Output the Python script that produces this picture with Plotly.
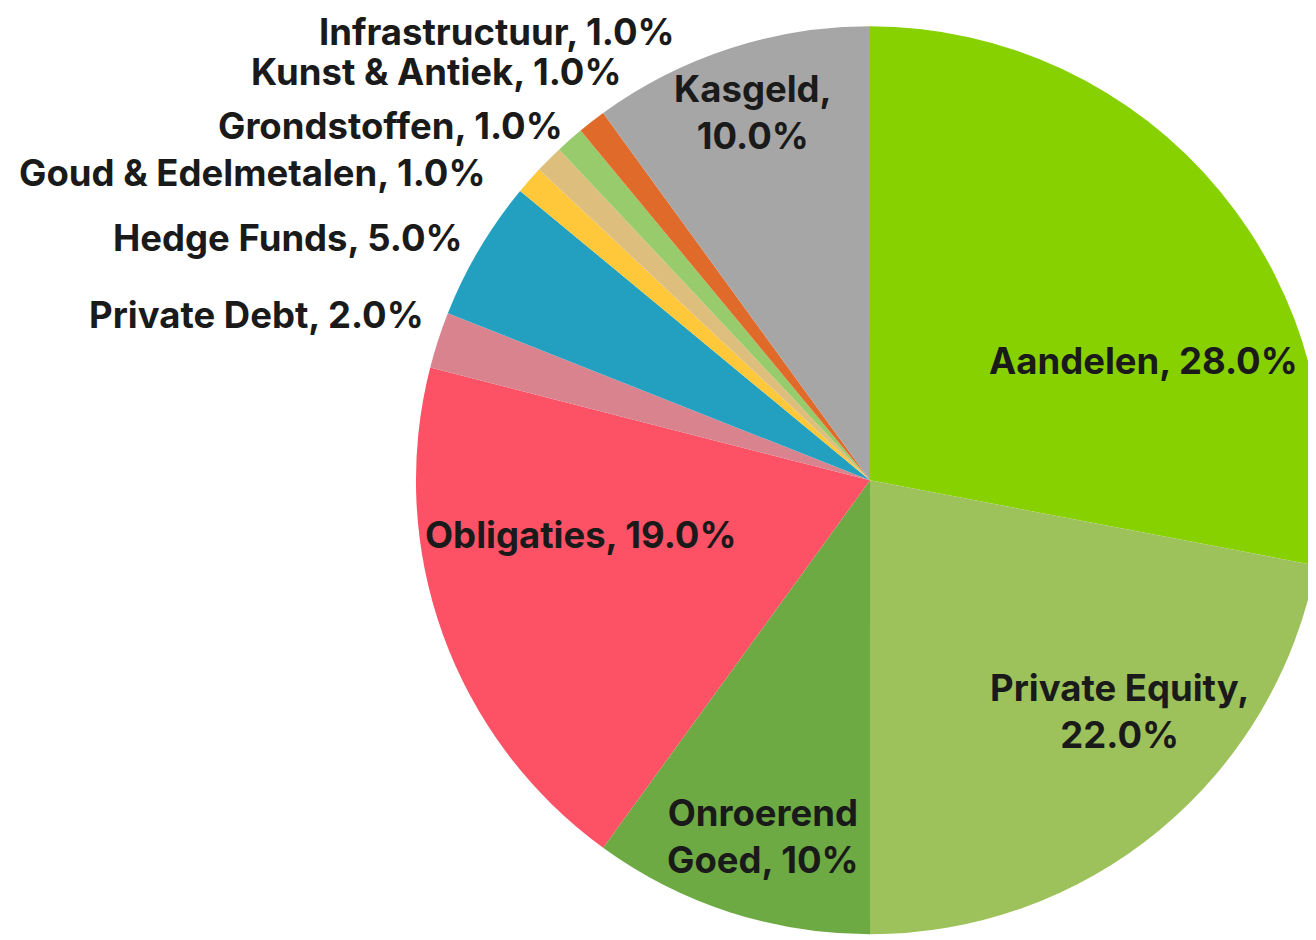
import plotly.graph_objects as go

labels = ["Aandelen", "Private Equity", "Onroerend Goed", "Obligaties", "Private Debt",
          "Hedge Funds", "Goud & Edelmetalen", "Grondstoffen", "Kunst & Antiek",
          "Infrastructuur", "Kasgeld"]
values = [28, 22, 10, 19, 2, 5, 1, 1, 1, 1, 10]
texts = ["Aandelen, 28.0%", "Private Equity,<br>22.0%", "Onroerend<br>Goed, 10%",
         "Obligaties, 19.0%", "Private Debt, 2.0%", "Hedge Funds, 5.0%",
         "Goud & Edelmetalen, 1.0%", "Grondstoffen, 1.0%", "Kunst & Antiek, 1.0%",
         "Infrastructuur, 1.0%", "Kasgeld,<br>10.0%"]
colors = ["#88D100", "#9DC25B", "#6DAA44", "#FD5166", "#D9838F", "#23A0C0",
          "#FFC83A", "#DDBE7D", "#98CB6B", "#E06A2A", "#A6A6A6"]

# label placement (paper coords), x anchor, y anchor; small slices get their label outside
label_pos = {
    "Aandelen": (0.8625, 0.6245, "center", "middle"),
    "Private Equity": (0.845, 0.2511, "center", "middle"),
    "Onroerend Goed": (0.5735, 0.1181, "center", "middle"),
    "Obligaties": (0.4354, 0.4394, "center", "middle"),
    "Kasgeld": (0.566, 0.8883, "center", "middle"),
    "Private Debt": (0.318, 0.6735, "right", "middle"),
    "Hedge Funds": (0.347, 0.7555, "right", "middle"),
    "Goud & Edelmetalen": (0.365, 0.8245, "right", "middle"),
    "Grondstoffen": (0.423, 0.8745, "right", "middle"),
    "Kunst & Antiek": (0.468, 0.9315, "right", "middle"),
    "Infrastructuur": (0.508, 1.0, "right", "top"),
}

font = dict(family="Inter", size=36.5, color="#1a1a1a", weight=700)

fig = go.Figure(go.Pie(
    labels=labels,
    values=values,
    textinfo="none",
    sort=False,
    direction="clockwise",
    rotation=0,
    marker=dict(colors=colors, line=dict(width=0)),
    domain=dict(x=[0.31, 1], y=[0.005, 0.99]),
    hoverinfo="label+percent",
))

for lab, txt in zip(labels, texts):
    x, y, xa, ya = label_pos[lab]
    fig.add_annotation(x=x, y=y, xref="paper", yref="paper", text=txt,
                       showarrow=False, xanchor=xa, yanchor=ya,
                       align="center", font=font)

fig.update_layout(
    width=1316,
    height=940,
    margin=dict(l=0, r=0, t=0, b=0),
    showlegend=False,
    paper_bgcolor="white",
)

fig.write_html("out.html")
